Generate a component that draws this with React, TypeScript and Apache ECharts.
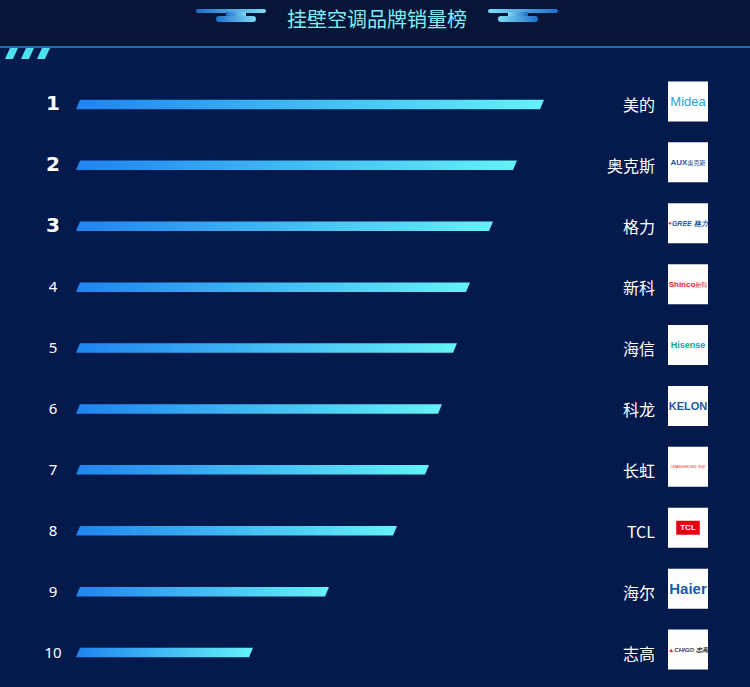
import { useEffect, useRef } from 'react';
import * as echarts from 'echarts';

const ranks = ['1', '2', '3', '4', '5', '6', '7', '8', '9', '10'];
const brands = ['美的', '奥克斯', '格力', '新科', '海信', '科龙', '长虹', 'TCL', '海尔', '志高'];
const sales = [936, 882, 834, 788, 762, 732, 706, 642, 506, 354];
const logos: Record<string, string> = {
  '美的': '{midea|Midea}',
  '奥克斯': '{aux|AUX}{auxcn|奥克斯}',
  '格力': '{greeDot|●}{gree|GREE 格力}',
  '新科': '{shinco|Shinco}{shincocn|新科}',
  '海信': '{hisense|Hisense}',
  '科龙': '{kelon|KELON}',
  '长虹': '{changhong|CHANGHONG 长虹}',
  'TCL': '{tcl|TCL}',
  '海尔': '{haier|Haier}',
  '志高': '{chigoIcon|▲}{chigo|CHIGO 志高}',
};
const title = '挂壁空调品牌销量榜';

const frag = (o: any) => ({ lineHeight: 40, align: 'center', verticalAlign: 'middle', fontFamily: 'Liberation Sans, Arial, sans-serif', ...o });

export default function App() {
  const ref = useRef<HTMLDivElement>(null);
  useEffect(() => {
    document.body.style.margin = '0';
    const chart = echarts.init(ref.current!, undefined, { renderer: 'svg' });
    const barFill = new echarts.graphic.LinearGradient(0, 0, 1, 0, [
      { offset: 0, color: '#1f84f0' },
      { offset: 1, color: '#64f2f7' },
    ]);
    const decoL = new echarts.graphic.LinearGradient(0, 0, 1, 0, [
      { offset: 0, color: '#1f6fc8' },
      { offset: 1, color: '#7fdcf6' },
    ]);
    const decoR = new echarts.graphic.LinearGradient(0, 0, 1, 0, [
      { offset: 0, color: '#7fdcf6' },
      { offset: 1, color: '#1f6fc8' },
    ]);
    const stripe = (x: number) => ({
      type: 'polygon',
      shape: { points: [[x + 5, 48], [x + 13, 48], [x + 8, 59], [x, 59]] },
      style: { fill: '#4fe2ee' },
    });
    const deco = (x0: number, fill: any, mirror: boolean) => {
      const lx = mirror ? x0 + 10 : x0 + 20;
      return [
        { type: 'rect', shape: { x: x0, y: 9, width: 70, height: 4, r: 2 }, style: { fill } },
        { type: 'rect', shape: { x: lx + 10, y: 12, width: 20, height: 5 }, style: { fill } },
        { type: 'rect', shape: { x: lx, y: 16, width: 40, height: 6, r: 3 }, style: { fill } },
      ];
    };
    chart.setOption({
      animation: false,
      backgroundColor: '#041a4d',
      graphic: [
        { type: 'rect', shape: { x: 0, y: 0, width: 750, height: 46 }, style: { fill: '#061538' }, z: -1 },
        { type: 'rect', shape: { x: 0, y: 46, width: 750, height: 2 }, style: { fill: '#1d6eb8' } },
        stripe(5), stripe(21), stripe(37),
        ...deco(196, decoL, false),
        ...deco(488, decoR, true),
        {
          type: 'text', x: 377, y: 18,
          style: {
            text: title, fontSize: 20, fontFamily: 'Noto Sans CJK SC',
            fill: '#7eeef4',
            align: 'center', verticalAlign: 'middle',
          },
        },
      ],
      grid: [
        { left: 76, right: 174, top: 74, bottom: 4 },
        { left: 76, right: 174, top: 71, bottom: 7 },
      ],
      xAxis: [
        { type: 'value', min: 0, max: 1000, show: false, gridIndex: 0 },
        { type: 'value', min: 0, max: 1000, show: false, gridIndex: 1 },
      ],
      yAxis: [
        {
          type: 'category', inverse: true, data: ranks, gridIndex: 0,
          axisLine: { show: false }, axisTick: { show: false }, splitLine: { show: false },
          axisLabel: {
            interval: 0, align: 'center', margin: 23,
            formatter: (v: string) => (Number(v) <= 3 ? `{top|${v}}` : `{normal|${v}}`),
            rich: {
              top: { fontSize: 20, fontWeight: 900, color: '#fff', fontFamily: 'DejaVu Sans', padding: [0, 0, 2, 0] },
              normal: { fontSize: 15, color: '#fff', fontFamily: 'Noto Sans', padding: [0, 0, 2, 0] },
            },
          },
        },
        {
          type: 'category', inverse: true, data: brands, position: 'right', gridIndex: 0,
          axisLine: { show: false }, axisTick: { show: false }, splitLine: { show: false },
          axisLabel: {
            interval: 0, align: 'right', margin: 79, color: '#fff', fontSize: 16,
            fontFamily: 'Noto Sans CJK SC',
          },
        },
        {
          type: 'category', inverse: true, data: brands, position: 'right', gridIndex: 1,
          axisLine: { show: false }, axisTick: { show: false }, splitLine: { show: false },
          axisLabel: {
            interval: 0, align: 'center', margin: 112,
            backgroundColor: '#ffffff', width: 40, height: 40, lineHeight: 40, padding: 0,
            verticalAlign: 'middle',
            formatter: (v: string) => logos[v],
            rich: {
              midea: frag({ fontSize: 13, color: '#2e9fdb' }),
              aux: frag({ fontSize: 8, fontWeight: 'bold', color: '#1f4fa0' }),
              auxcn: frag({ fontSize: 6, color: '#1f4fa0', fontFamily: 'Noto Sans CJK SC' }),
              greeDot: frag({ fontSize: 6, color: '#e8352c' }),
              gree: frag({ fontSize: 7, fontWeight: 'bold', fontStyle: 'italic', color: '#1a5aa6' }),
              shinco: frag({ fontSize: 8, fontWeight: 'bold', color: '#e6212b' }),
              shincocn: frag({ fontSize: 6, color: '#e6212b', fontFamily: 'Noto Sans CJK SC' }),
              hisense: frag({ fontSize: 9, fontWeight: 'bold', color: '#16a299' }),
              kelon: frag({ fontSize: 11, fontWeight: 'bold', color: '#1a56a6' }),
              changhong: frag({ fontSize: 4, color: '#e0242b' }),
              tcl: { fontSize: 8, fontWeight: 'bold', color: '#fff', backgroundColor: '#e60012', padding: [3, 4], align: 'center', verticalAlign: 'middle', fontFamily: 'Liberation Sans' },
              haier: frag({ fontSize: 15, fontWeight: 'bold', color: '#1b5aa8' }),
              chigoIcon: frag({ fontSize: 6, color: '#e0242b' }),
              chigo: frag({ fontSize: 6, fontStyle: 'italic', fontWeight: 'bold', color: '#333' }),
            },
          },
        },
      ],
      series: [
        {
          type: 'custom',
          xAxisIndex: 0,
          yAxisIndex: 0,
          data: sales.map((v, i) => [v, i]),
          encode: { x: 0, y: 1 },
          renderItem: (params: any, api: any) => {
            const v = api.value(0);
            const c = api.value(1);
            const s = api.coord([0, c]);
            const e = api.coord([v, c]);
            const h = 9.5;
            const sl = 4;
            const y0 = s[1] - h / 2;
            const y1 = s[1] + h / 2;
            return {
              type: 'polygon',
              shape: { points: [[s[0] + sl, y0], [e[0], y0], [e[0] - sl, y1], [s[0], y1]] },
              style: { fill: barFill },
            };
          },
        },
      ],
    });
    return () => chart.dispose();
  }, []);
  return <div ref={ref} style={{ width: 750, height: 687, position: 'absolute', left: 0, top: 0 }} />;
}
